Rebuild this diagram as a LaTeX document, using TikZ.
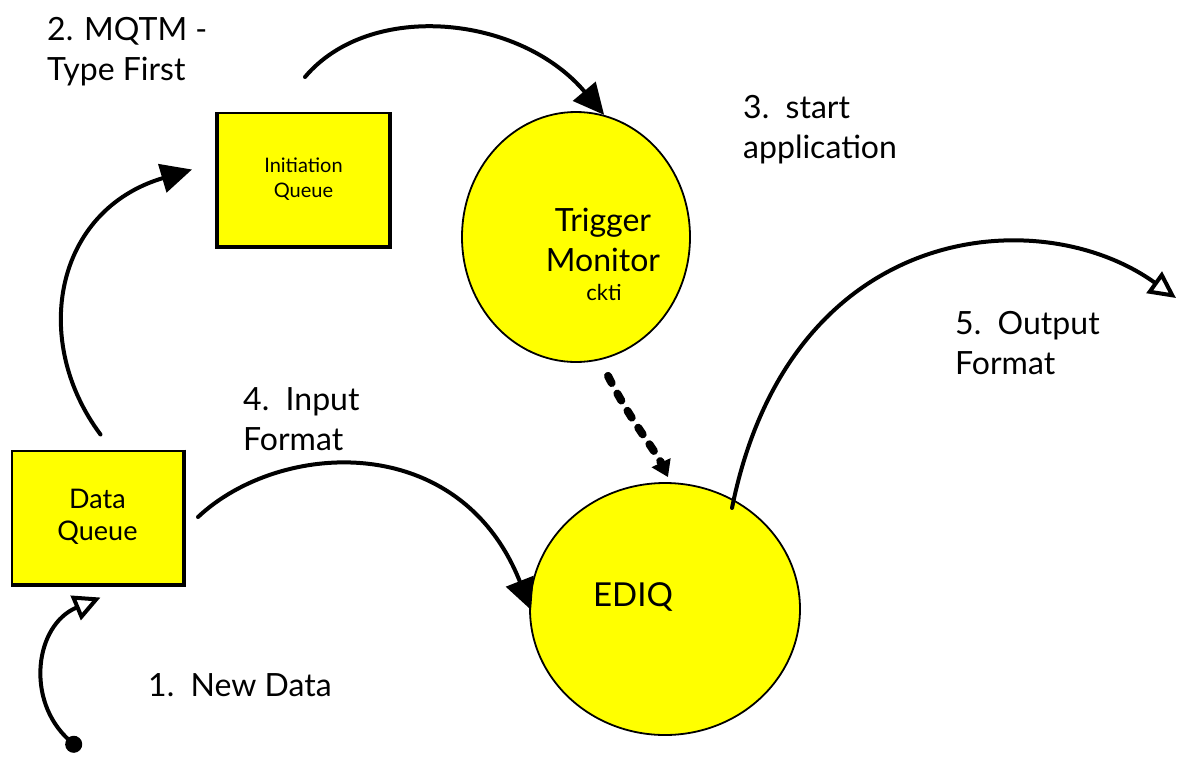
\documentclass[tikz,border=0pt]{standalone}
\usepackage{fontspec}
\setmainfont{Lato}
\usetikzlibrary{arrows.meta,shapes.geometric,calc}
\definecolor{boxyellow}{RGB}{255,255,0}
\begin{document}
\begin{tikzpicture}[x=1pt,y=-1pt,
  queue/.style={draw=black, line width=2pt, fill=boxyellow, minimum width=171pt,
    minimum height=133pt, inner sep=0pt, align=center},
  proc/.style={ellipse, draw=black, line width=1.8pt, fill=boxyellow, inner sep=0pt},
  flow/.style={line width=4pt, line cap=round},
  solidtip/.style={-{Triangle[length=31pt,width=29pt]}},
  opentip/.style={-{Triangle[open,length=27pt,width=26pt,line width=4pt]}},
  lbl/.style={font=\fontsize{32}{40}\selectfont, align=left, anchor=north west, inner sep=0pt},
  inner/.style={font=\fontsize{32}{40}\selectfont, align=center, anchor=north, inner sep=0pt},
]
\useasboundingbox (0,0) rectangle (1178,761);

% queues
\node[queue, font=\fontsize{27}{32}\selectfont] (dq) at (97.5,517) {Data\\Queue};
\draw[line width=4pt] (dq.north east) -- (dq.south east) -- (dq.south west);
\node[queue, font=\fontsize{20}{25}\selectfont] (iq) at (303.5,179.5) {Initiation\\Queue};
\draw[line width=4pt] (iq.north west) -- (iq.south west) -- (iq.south east) -- (iq.north east);

% processes
\node[proc, minimum width=228pt, minimum height=250pt] (trig) at (576,237) {};
\node[inner] (trigtxt) at (603,208) {Trigger\\Monitor};
\node[font=\fontsize{22}{26}\selectfont, inner sep=0pt] (ckti) at (604,292) {ckti};
\node[proc, minimum width=270pt, minimum height=252pt] (ediq) at (665,609) {};
\node[font=\fontsize{33}{40}\selectfont, inner sep=0pt] (ediqtxt) at (633,597) {EDIQ};

% free ends
\coordinate (newdata) at (80,750);
\coordinate (out) at (1176,298);

% connectors
\draw[flow, {Circle[length=17pt]}-{Triangle[open,length=27pt,width=26pt,line width=4pt]}]
  (newdata) .. controls (25,700) and (35,625) .. ($(dq.south)+(3,13)$);
\draw[flow, solidtip]
  ($(dq.north)+(3,-15)$) .. controls (30,340) and (55,210) .. ($(iq.west)+(-25,-10)$);
\draw[flow, solidtip]
  ($(iq.north)+(1.5,-35)$) .. controls (370,0) and (520,15) .. (trig.77);
\draw[flow, solidtip]
  ($(dq.east)+(14,0)$) .. controls (280,440) and (460,430) .. ($(ediq.west)+(2,1)$);
\draw[flow, opentip]
  ($(ediq.center)+(67,-101)$) .. controls (790,220) and (1040,200) .. (out);
\draw[line width=8pt, line cap=round, dash pattern=on 8pt off 12pt,
  -{Triangle[length=16pt,width=20pt]}]
  ($(trig.south)+(32,13)$) .. controls (630,420) and (655,450) .. ($(ediq.north)+(3,-5)$);

% step labels
\node[lbl] (l1) at (148,673) {1.\ \ New Data};
\node[lbl] (l2) at (47,17) {2. MQTM -\\Type First};
\node[lbl] (l3) at (743,95) {3.\ \ start\\application};
\node[lbl] (l4) at (243,387) {4.\ \ Input\\Format};
\node[lbl] (l5) at (955,311) {5.\ \ Output\\Format};
\end{tikzpicture}
\end{document}
